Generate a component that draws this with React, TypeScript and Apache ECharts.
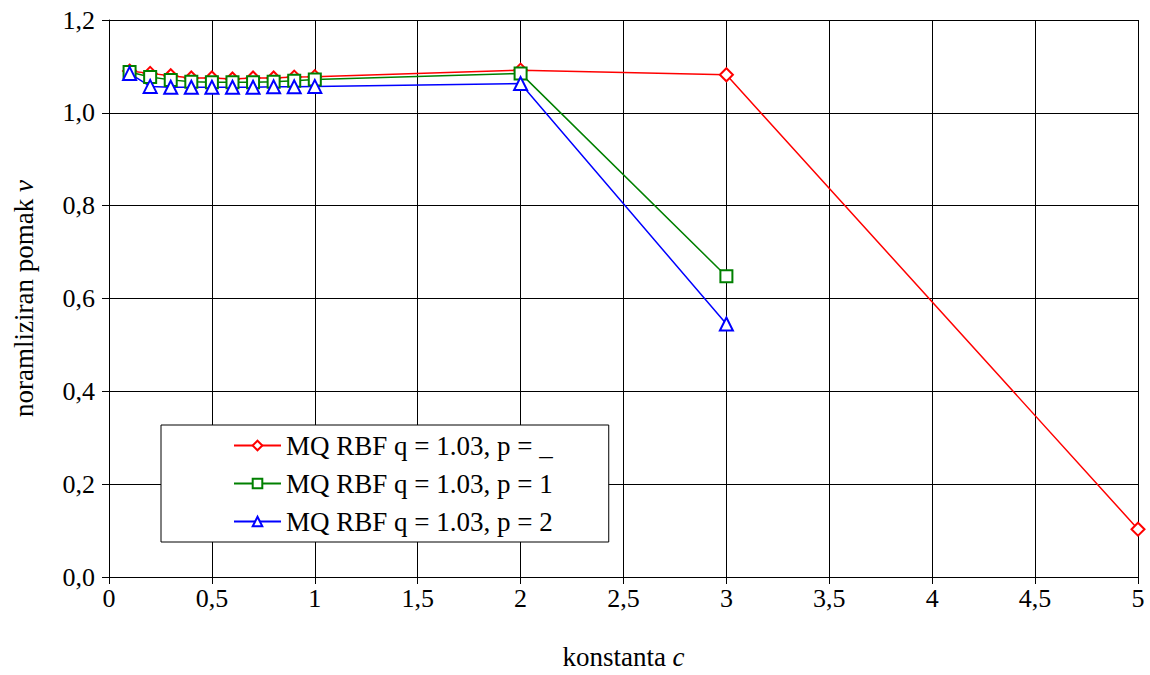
import React, { useEffect, useRef } from "react";
import * as echarts from "echarts";

const xValues = [0.1, 0.2, 0.3, 0.4, 0.5, 0.6, 0.7, 0.8, 0.9, 1.0, 2, 3, 5];
const redValues = [1.09, 1.085, 1.08, 1.075, 1.075, 1.073, 1.075, 1.075, 1.077, 1.078, 1.092, 1.082, 0.103];
const greenX = [0.1, 0.2, 0.3, 0.4, 0.5, 0.6, 0.7, 0.8, 0.9, 1.0, 2, 3];
const greenValues = [1.088, 1.077, 1.071, 1.067, 1.066, 1.066, 1.066, 1.067, 1.069, 1.072, 1.085, 0.648];
const blueX = [0.1, 0.2, 0.3, 0.4, 0.5, 0.6, 0.7, 0.8, 0.9, 1.0, 2, 3];
const blueValues = [1.085, 1.057, 1.055, 1.055, 1.055, 1.055, 1.055, 1.056, 1.056, 1.057, 1.063, 0.545];
const seriesNames = ["MQ RBF q = 1.03, p = _", "MQ RBF q = 1.03, p = 1", "MQ RBF q = 1.03, p = 2"];

const FONT = "Liberation Serif";

export default function App() {
  const ref = useRef<HTMLDivElement>(null);
  useEffect(() => {
    if (!ref.current) return;
    const chart = echarts.init(ref.current, null, { renderer: "svg" });
    const zip = (xs: number[], ys: number[]) => xs.map((x, i) => [x, ys[i]]);
    const mk = (name: string, data: number[][], color: string, symbol: string, size: number) => ({
      type: "line",
      name,
      data,
      color,
      symbol,
      symbolSize: size,
      showAllSymbol: true,
      lineStyle: { color, width: 1.5 },
      itemStyle: { color, borderColor: color, borderWidth: 1.5 },
    });
    chart.setOption({
      animation: false,
      textStyle: { fontFamily: FONT },
      grid: { left: 109, right: 12, top: 20, bottom: 96, containLabel: false },
      legend: {
        orient: "vertical",
        left: 161,
        top: 425,
        data: seriesNames,
        itemWidth: 47,
        itemHeight: 12,
        itemGap: 11,
        padding: [7, 56, 7, 72],
        borderColor: "#000",
        borderWidth: 1,
        backgroundColor: "#fff",
        textStyle: { fontFamily: FONT, fontSize: 27, color: "#000" },
      },
      xAxis: {
        type: "value",
        min: 0,
        max: 5,
        interval: 0.5,
        name: "{a|konstanta }{b|c}",
        nameLocation: "middle",
        nameGap: 66,
        nameTextStyle: {
          rich: {
            a: { fontFamily: FONT, fontSize: 27, color: "#000" },
            b: { fontFamily: FONT, fontSize: 27, color: "#000", fontStyle: "italic" },
          },
        },
        axisLine: { show: true, lineStyle: { color: "#000", width: 1 } },
        axisTick: { show: true, length: 7, lineStyle: { color: "#000" } },
        axisLabel: {
          fontFamily: FONT,
          fontSize: 26,
          color: "#000",
          margin: 8,
          formatter: (v: number) => String(v).replace(".", ","),
        },
        splitLine: { show: true, lineStyle: { color: "#000", width: 1 } },
      },
      yAxis: {
        type: "value",
        min: 0,
        max: 1.2,
        interval: 0.2,
        name: "{a|noramliziran pomak }{b|v}",
        nameLocation: "middle",
        nameGap: 72,
        nameRotate: 90,
        nameTextStyle: {
          rich: {
            a: { fontFamily: FONT, fontSize: 27, color: "#000" },
            b: { fontFamily: FONT, fontSize: 27, color: "#000", fontStyle: "italic" },
          },
        },
        axisLine: { show: true, lineStyle: { color: "#000", width: 1 } },
        axisTick: { show: true, length: 7, lineStyle: { color: "#000" } },
        axisLabel: {
          fontFamily: FONT,
          fontSize: 26,
          color: "#000",
          margin: 14,
          formatter: (v: number) => v.toFixed(1).replace(".", ","),
        },
        splitLine: { show: true, lineStyle: { color: "#000", width: 1 } },
      },
      series: [
        mk(seriesNames[0], zip(xValues, redValues), "#ff0000", "emptyDiamond", 13),
        mk(seriesNames[1], zip(greenX, greenValues), "#008000", "emptyRect", 12),
        mk(seriesNames[2], zip(blueX, blueValues), "#0000ff", "emptyTriangle", 13),
      ],
    });
    return () => chart.dispose();
  }, []);
  return (
    <div
      ref={ref}
      style={{ position: "fixed", left: 0, top: 0, width: 1150, height: 675, background: "#fff" }}
    />
  );
}
